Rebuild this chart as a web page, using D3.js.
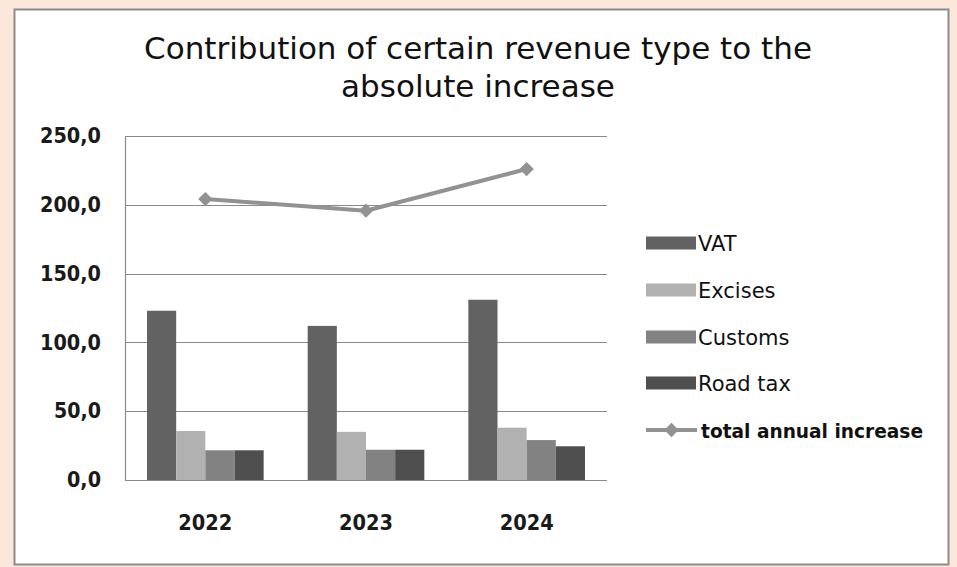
<!DOCTYPE html>
<html>
<head>
<meta charset="utf-8">
<script src="https://cdn.jsdelivr.net/npm/d3@7/dist/d3.min.js"></script>
<style>
  html, body { margin: 0; padding: 0; background: #fce8da; }
  svg { display: block; }
</style>
</head>
<body>
<svg id="chart" width="957" height="567"></svg>
<script>
// Revenue contributions to the absolute increase, by year
const years = ["2022", "2023", "2024"];
const seriesNames = ["VAT", "Excises", "Customs", "Road tax"];
const vat = [123.0, 112.0, 131.0];
const excises = [35.6, 35.0, 38.0];
const customs = [21.6, 22.0, 29.0];
const roadTax = [21.6, 22.0, 24.5];
const totalIncrease = [204.2, 195.7, 226.0];
const lineName = "total annual increase";
const yTicks = [0, 50, 100, 150, 200, 250];
const titleLines = ["Contribution of certain revenue type to the", "absolute increase"];

const seriesValues = [vat, excises, customs, roadTax];
const seriesColors = ["#626262", "#b1b1b1", "#828282", "#4f4f4f"];
const lineColor = "#929292";

const svg = d3.select("#chart");

// outer card
svg.append("rect")
  .attr("x", 14.5).attr("y", 9.5)
  .attr("width", 934).attr("height", 555)
  .attr("fill", "#ffffff")
  .attr("stroke", "#8c8c8c").attr("stroke-width", 2);

const plot = { left: 125, right: 607, top: 136, bottom: 480 };

const x = d3.scaleBand().domain(years)
  .range([plot.left, plot.right]).paddingInner(0.274).paddingOuter(0.137);
const xs = d3.scaleBand().domain(seriesNames).range([0, x.bandwidth()]);
const y = d3.scaleLinear().domain([0, 250]).range([plot.bottom, plot.top]);

// gridlines
svg.append("g").selectAll("line").data(yTicks.filter(d => d > 0)).join("line")
  .attr("x1", plot.left).attr("x2", plot.right)
  .attr("y1", d => Math.round(y(d)) + 0.5).attr("y2", d => Math.round(y(d)) + 0.5)
  .attr("stroke", "#8a8a8a").attr("stroke-width", 1.2);

// y axis labels
const fmt = d => d3.format(".1f")(d).replace(".", ",");
const yAxis = d3.axisLeft(y).tickValues(yTicks).tickSize(0).tickPadding(0).tickFormat(fmt);
const yg = svg.append("g").attr("transform", `translate(${plot.left - 24},0)`).call(yAxis);
yg.select(".domain").remove();
yg.selectAll("text")
  .attr("font-family", "DejaVu Sans").attr("font-size", 21).attr("font-weight", "bold")
  .attr("textLength", d => fmt(d).length === 5 ? 61 : fmt(d).length === 4 ? 47 : 34)
  .attr("lengthAdjust", "spacingAndGlyphs")
  .attr("fill", "#1a1a1a");

// bars
const groups = svg.append("g").selectAll("g").data(seriesNames).join("g")
  .attr("fill", (d, i) => seriesColors[i]);
groups.selectAll("rect")
  .data((name, si) => years.map((yr, yi) => ({ yr, name, v: seriesValues[si][yi] })))
  .join("rect")
  .attr("x", d => x(d.yr) + xs(d.name))
  .attr("width", xs.bandwidth())
  .attr("y", d => y(d.v))
  .attr("height", d => y(0) - y(d.v));

// axis lines
svg.append("line")
  .attr("x1", plot.left + 0.5).attr("x2", plot.left + 0.5)
  .attr("y1", plot.top).attr("y2", plot.bottom)
  .attr("stroke", "#8a8a8a").attr("stroke-width", 1.2);
svg.append("line")
  .attr("x1", plot.left).attr("x2", plot.right)
  .attr("y1", plot.bottom + 0.5).attr("y2", plot.bottom + 0.5)
  .attr("stroke", "#8a8a8a").attr("stroke-width", 1.2);

// x axis labels
const xAxis = d3.axisBottom(x).tickSize(0).tickPadding(0);
const xg = svg.append("g").attr("transform", `translate(0,${plot.bottom})`).call(xAxis);
xg.select(".domain").remove();
xg.selectAll("text")
  .attr("dy", null).attr("y", 50)
  .attr("font-family", "DejaVu Sans").attr("font-size", 21).attr("font-weight", "bold")
  .attr("textLength", 54).attr("lengthAdjust", "spacingAndGlyphs")
  .attr("fill", "#1a1a1a");

// total line with diamond markers
const line = d3.line().x((d, i) => x(years[i]) + x.bandwidth() / 2).y(d => y(d));
svg.append("path").datum(totalIncrease)
  .attr("d", line).attr("fill", "none")
  .attr("stroke", lineColor).attr("stroke-width", 4).attr("stroke-linejoin", "round");
const diamond = d3.symbol().type(d3.symbolDiamond2).size(130);
svg.append("g").selectAll("path").data(totalIncrease).join("path")
  .attr("d", diamond)
  .attr("transform", (d, i) => `translate(${x(years[i]) + x.bandwidth() / 2},${y(d)})`)
  .attr("fill", lineColor);

// title
svg.append("g").selectAll("text").data(titleLines).join("text")
  .attr("x", 478).attr("y", (d, i) => 59 + i * 38)
  .attr("text-anchor", "middle")
  .attr("font-family", "DejaVu Sans").attr("font-size", 31)
  .attr("fill", "#111")
  .text(d => d);

// legend
const legend = svg.append("g");
const legY = [243, 290, 337, 383, 430];
seriesNames.forEach((name, i) => {
  legend.append("rect")
    .attr("x", 646).attr("y", legY[i] - 6.5).attr("width", 50).attr("height", 13)
    .attr("fill", seriesColors[i]);
  legend.append("text")
    .attr("x", 698).attr("y", legY[i] + 7.5)
    .attr("font-family", "DejaVu Sans").attr("font-size", 21)
    .attr("fill", "#111").text(name);
});
legend.append("line")
  .attr("x1", 646).attr("x2", 697).attr("y1", legY[4]).attr("y2", legY[4])
  .attr("stroke", lineColor).attr("stroke-width", 4);
legend.append("path").attr("d", diamond)
  .attr("transform", `translate(671.5,${legY[4]})`).attr("fill", lineColor);
legend.append("text")
  .attr("x", 701).attr("y", legY[4] + 7.5)
  .attr("font-family", "DejaVu Sans").attr("font-size", 20).attr("font-weight", "bold")
  .attr("textLength", 222).attr("lengthAdjust", "spacingAndGlyphs")
  .attr("fill", "#111").text(lineName);
</script>
</body>
</html>
